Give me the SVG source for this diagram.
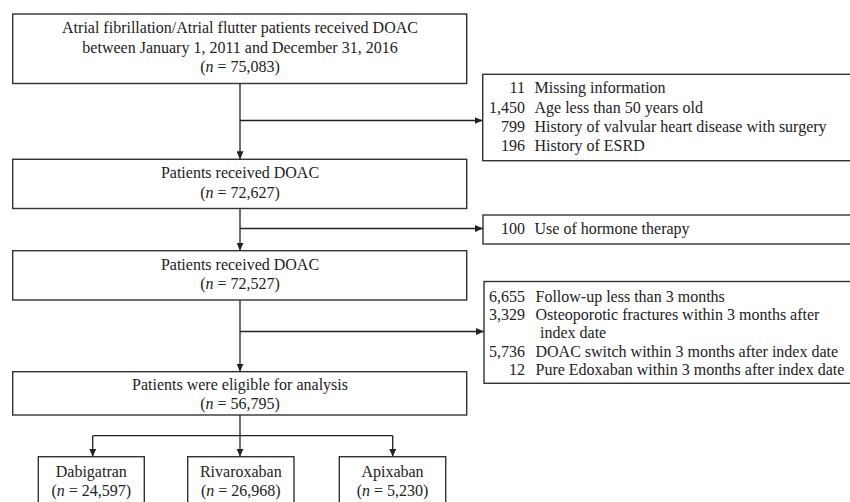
<svg xmlns="http://www.w3.org/2000/svg" width="850" height="502" viewBox="0 0 850 502">
<defs>
<marker id="arr" markerUnits="userSpaceOnUse" markerWidth="8" markerHeight="7" refX="8" refY="3.5" orient="auto">
<path d="M0,0 L8,3.5 L0,7 Z" fill="#222"/>
</marker>
</defs>
<style>
rect{fill:#fff;stroke:#333;stroke-width:1.4}
text{font-family:"Liberation Serif","Times New Roman",serif;font-size:16px;fill:#222}
.c{text-anchor:middle}
.r{text-anchor:end}
.conn line,.conn path{stroke:#222;stroke-width:1.3;fill:none}
</style>
<rect x="0" y="0" width="850" height="502" style="stroke:none"/>
<g class="conn">
<line x1="240" y1="83.5" x2="240" y2="159.3" marker-end="url(#arr)"/>
<line x1="240" y1="120.5" x2="482.7" y2="120.5" marker-end="url(#arr)"/>
<line x1="240" y1="208.5" x2="240" y2="250.7" marker-end="url(#arr)"/>
<line x1="240" y1="228.5" x2="483" y2="228.5" marker-end="url(#arr)"/>
<line x1="240" y1="300" x2="240" y2="371.7" marker-end="url(#arr)"/>
<line x1="240" y1="331.5" x2="484" y2="331.5" marker-end="url(#arr)"/>
<line x1="240" y1="415" x2="240" y2="456.7" marker-end="url(#arr)"/>
<path d="M92.7,435.7 H392.7"/>
<line x1="92.7" y1="435.7" x2="92.7" y2="456.7" marker-end="url(#arr)"/>
<line x1="392.7" y1="435.7" x2="392.7" y2="456.7" marker-end="url(#arr)"/>
</g>
<g id="start">
<rect x="12.7" y="14" width="454" height="69.5"/>
<text class="c" x="240" y="33.3">Atrial fibrillation/Atrial flutter patients received DOAC</text>
<text class="c" x="240" y="52.8">between January 1, 2011 and December 31, 2016</text>
<text class="c" x="240" y="72">(<tspan font-style="italic">n</tspan> = 75,083)</text>
</g>
<g id="excl1">
<rect x="482.7" y="74.3" width="370" height="86.4"/>
<text class="r" x="525" y="93.3">11</text><text x="534.5" y="93.3">Missing information</text>
<text class="r" x="525" y="112.6">1,450</text><text x="534.5" y="112.6">Age less than 50 years old</text>
<text class="r" x="525" y="131.8">799</text><text x="534.5" y="131.8">History of valvular heart disease with surgery</text>
<text class="r" x="525" y="151">196</text><text x="534.5" y="151">History of ESRD</text>
</g>
<g id="doac1">
<rect x="12.7" y="159.3" width="454" height="49.2"/>
<text class="c" x="240" y="178.3">Patients received DOAC</text>
<text class="c" x="240" y="197.5">(<tspan font-style="italic">n</tspan> = 72,627)</text>
</g>
<g id="excl2">
<rect x="483" y="215" width="370" height="29"/>
<text class="r" x="525" y="234">100</text><text x="534.5" y="234">Use of hormone therapy</text>
</g>
<g id="doac2">
<rect x="12.7" y="250.7" width="454" height="49.3"/>
<text class="c" x="240" y="270">Patients received DOAC</text>
<text class="c" x="240" y="289.3">(<tspan font-style="italic">n</tspan> = 72,527)</text>
</g>
<g id="excl3">
<rect x="484" y="281.5" width="370" height="101.8"/>
<text class="r" x="525" y="301.7">6,655</text><text x="535.5" y="301.7">Follow-up less than 3 months</text>
<text class="r" x="525" y="320">3,329</text><text x="535.5" y="320">Osteoporotic fractures within 3 months after</text>
<text x="540" y="338.3">index date</text>
<text class="r" x="525" y="356.7">5,736</text><text x="535.5" y="356.7">DOAC switch within 3 months after index date</text>
<text class="r" x="525" y="374.8">12</text><text x="535.5" y="374.8">Pure Edoxaban within 3 months after index date</text>
</g>
<g id="eligible">
<rect x="12.7" y="371.7" width="454" height="43.3"/>
<text class="c" x="240" y="390">Patients were eligible for analysis</text>
<text class="c" x="240" y="409.3">(<tspan font-style="italic">n</tspan> = 56,795)</text>
</g>
<g id="dabigatran">
<rect x="38.3" y="456.7" width="106" height="60"/>
<text class="c" x="91.3" y="476.7">Dabigatran</text>
<text class="c" x="91.3" y="495.5">(<tspan font-style="italic">n</tspan> = 24,597)</text>
</g>
<g id="rivaroxaban">
<rect x="187.7" y="456.7" width="106.3" height="60"/>
<text class="c" x="240.8" y="476.7">Rivaroxaban</text>
<text class="c" x="240.8" y="495.5">(<tspan font-style="italic">n</tspan> = 26,968)</text>
</g>
<g id="apixaban">
<rect x="339.3" y="456.7" width="106.4" height="60"/>
<text class="c" x="392.5" y="476.7">Apixaban</text>
<text class="c" x="392.5" y="495.5">(<tspan font-style="italic">n</tspan> = 5,230)</text>
</g>
</svg>
